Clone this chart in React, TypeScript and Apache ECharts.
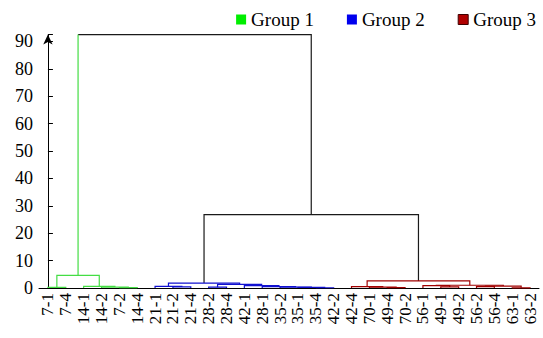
import React, { useEffect, useRef } from "react";
import * as echarts from "echarts";

const leafLabels = ["7-1", "7-4", "14-1", "14-2", "7-2", "14-4", "21-1", "21-2", "21-4", "28-2", "28-4", "42-1", "28-1", "35-2", "35-1", "35-4", "42-2", "42-4", "70-1", "49-4", "70-2", "56-1", "49-1", "49-2", "56-2", "56-4", "63-1", "63-2"];

// linkage: node id = leafLabels.length + row index
const mergeLeft = [26, 19, 4, 15, 0, 14, 18, 9, 13, 3, 7, 22, 17, 24, 12, 6, 2, 41, 11, 21, 47, 35, 43, 40, 32, 50, 52];
const mergeRight = [27, 20, 5, 16, 1, 31, 29, 10, 33, 30, 8, 23, 34, 25, 36, 38, 37, 28, 42, 39, 45, 46, 49, 48, 44, 51, 53];
const mergeHeight = [0.05, 0.15, 0.15, 0.1, 0.2, 0.2, 0.3, 0.3, 0.3, 0.35, 0.4, 0.4, 0.5, 0.5, 0.5, 0.6, 0.6, 0.7, 0.9, 0.9, 1.0, 1.3, 1.8, 2.6, 4.6, 26.8, 92.5];
const mergeGroup = [3, 3, 1, 2, 1, 2, 3, 2, 2, 1, 2, 3, 3, 3, 2, 2, 1, 3, 2, 3, 3, 2, 2, 3, 1, 0, 0];
const leftLegGroup = [3, 3, 1, 2, 1, 2, 3, 2, 2, 1, 2, 3, 3, 3, 2, 2, 1, 3, 2, 3, 3, 2, 2, 3, 1, 0, 1];

const groupNames = ["", "Group 1", "Group 2", "Group 3"];
const groupColors = ["#1a1a1a", "#44dd44", "#1010d0", "#a00000"];
const yTicks = [0, 10, 20, 30, 40, 50, 60, 70, 80, 90];

const FONT = "Liberation Serif";

function buildSegments() {
  const n = leafLabels.length;
  const xs: number[] = leafLabels.map((_, i) => i);
  const hs: number[] = leafLabels.map(() => 0);
  const segs: number[][][] = [[], [], [], []];
  mergeLeft.forEach((l, k) => {
    const r = mergeRight[k];
    const h = mergeHeight[k];
    const xl = xs[l], xr = xs[r], hl = hs[l], hr = hs[r];
    const g = mergeGroup[k];
    const lg = leftLegGroup[k];
    if (lg === g) {
      segs[g].push([xl, hl, xl, h, xr, h, xr, hr]);
    } else {
      segs[lg].push([xl, hl, xl, h, xl, h, xl, h]);
      segs[g].push([xl, h, xl, h, xr, h, xr, hr]);
    }
    xs[n + k] = (xl + xr) / 2;
    hs[n + k] = h;
  });
  return segs;
}

export default function App() {
  const ref = useRef<HTMLDivElement>(null);
  useEffect(() => {
    if (!ref.current) return;
    const chart = echarts.init(ref.current, null, { renderer: "svg" });
    const segs = buildSegments();
    const series: any[] = [0, 1, 2, 3].map((g) => ({
      type: "custom",
      name: groupNames[g] || "links",
      xAxisIndex: 1,
      yAxisIndex: 0,
      clip: false,
      itemStyle: { color: groupColors[g] },
      encode: { x: [0, 2, 4, 6], y: [1, 3, 5, 7] },
      data: segs[g],
      renderItem: (params: any, api: any) => {
        const pts: number[][] = [];
        for (let i = 0; i < 4; i++) {
          pts.push(api.coord([api.value(2 * i), api.value(2 * i + 1)]));
        }
        return {
          type: "polyline",
          shape: { points: pts },
          style: { stroke: groupColors[g], fill: "none", lineWidth: 1.2 },
        };
      },
    }));
    chart.setOption({
      animation: false,
      backgroundColor: "#fff",
      legend: {
        data: [
          { name: "Group 1", itemStyle: { color: "#00ee00" } },
          { name: "Group 2", itemStyle: { color: "#0000ee" } },
          { name: "Group 3", itemStyle: { color: "#b00000", borderColor: "#400000", borderWidth: 1 } },
        ],
        icon: "rect",
        right: 2,
        top: 5,
        itemWidth: 10,
        itemHeight: 10,
        itemGap: 33,
        textStyle: { fontFamily: FONT, fontSize: 19, color: "#000" },
      },
      grid: { left: 39, right: 4, top: 34.6, bottom: 50, containLabel: false },
      xAxis: [
        {
          type: "category",
          data: leafLabels,
          boundaryGap: true,
          axisLine: { lineStyle: { color: "#000", width: 1 } },
          axisTick: { inside: true, alignWithLabel: true, length: 5, lineStyle: { color: "#000" } },
          axisLabel: { rotate: 90, interval: 0, margin: 5, fontFamily: FONT, fontSize: 17, color: "#000" },
          splitLine: { show: false },
        },
        { type: "value", min: -0.5, max: 27.5, show: false },
      ],
      yAxis: {
        type: "value",
        min: 0,
        max: 92.5,
        interval: 10,
        axisLine: { show: true, symbol: ["none", "arrow"], symbolSize: [7, 10], lineStyle: { color: "#000", width: 1 } },
        axisTick: { show: true, inside: true, length: 5, lineStyle: { color: "#000" } },
        axisLabel: {
          margin: 6,
          fontFamily: FONT,
          fontSize: 18,
          color: "#000",
          formatter: (v: number) => (yTicks.indexOf(v) >= 0 ? String(v) : ""),
        },
        splitLine: { show: false },
      },
      series,
    });
    return () => chart.dispose();
  }, []);
  return <div ref={ref} style={{ position: "fixed", left: 0, top: 0, width: 543, height: 338 }} />;
}
